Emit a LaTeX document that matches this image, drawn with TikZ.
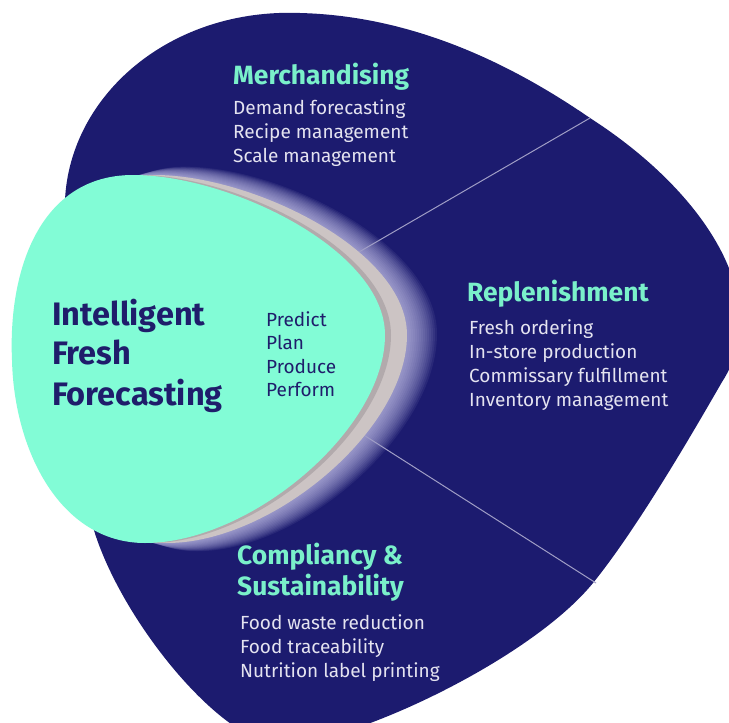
\documentclass[tikz,border=0pt]{standalone}
\usepackage{fontspec}
\setmainfont{Fira Sans}
\usepackage{xcolor}

\definecolor{navy}{RGB}{28,27,111}
\definecolor{mint}{RGB}{130,252,214}
\definecolor{minthead}{RGB}{122,240,202}
\definecolor{inktext}{RGB}{31,29,107}
\definecolor{paletext}{RGB}{228,227,240}
\definecolor{rimgrey}{RGB}{204,196,196}
\definecolor{rimshade}{RGB}{178,170,172}
\definecolor{glowc}{RGB}{210,208,245}
\definecolor{splitline}{RGB}{160,158,198}

\newcommand{\navyoutline}{(65,200) .. controls (70,95) and (170,8) .. (300,13) .. controls (420,16) and (520,70) .. (590,118) .. controls (705,192) and (775,300) .. (722,382) .. controls (700,420) and (640,525) .. (593,583) .. controls (532,658) and (360,740) .. (285,745) .. controls (225,749) and (120,620) .. (93,527) .. controls (66,434) and (62,252) .. (65,200) -- cycle}
\newcommand{\mintoutline}{(12,360) .. controls (8,270) and (40,175) .. (133,175) .. controls (230,175) and (385,250) .. (385,335) .. controls (385,430) and (250,543) .. (145,543) .. controls (60,543) and (14,450) .. (12,360) -- cycle}

\begin{document}
\begin{tikzpicture}[x=1pt,y=-1pt,
  head/.style={font=\fontsize{26.4}{30}\selectfont\bfseries, text=minthead, inner sep=0pt, anchor=base west},
  item/.style={font=\fontsize{19}{24}\selectfont, text=paletext, inner sep=0pt, anchor=base west},
  core/.style={font=\fontsize{32.5}{40}\selectfont\bfseries, text=inktext, inner sep=0pt, anchor=base west},
  verb/.style={font=\fontsize{19}{24}\selectfont, text=inktext, inner sep=0pt, anchor=base west}]

\useasboundingbox (0,0) rectangle (729,723);
\fill[white] (0,0) rectangle (729,723);
\clip (0,0) rectangle (729,723);

%outer blob
\fill[navy] \navyoutline;

%glow round the core
\begin{scope}
\clip \navyoutline;
\foreach \d [count=\k] in {24,26,...,52}
  \fill[glowc, opacity=0.075, xshift=\d pt, shift={(0,360-360*(1+0.003*\k))}, yscale=1+0.003*\k] \mintoutline;
\end{scope}

%split lines
\coordinate (upin) at (359,252);
\coordinate (upout) at (590,118);
\coordinate (lowin) at (359,432);
\coordinate (lowout) at (596,583);
\draw[splitline, line width=1pt] (upin) -- (upout);
\draw[splitline, line width=1pt] (lowin) -- (lowout);

%rim and core
\fill[rimgrey, xshift=22pt] \mintoutline;
\fill[rimshade, xshift=6pt] \mintoutline;
\fill[mint] \mintoutline;

%core labels
\node[core] (intel) at (52,325) {Intelligent};
\node[core] (fresh) at (52,364) {Fresh};
\node[core] (fcast) at (52,405) {Forecasting};

\foreach \txt [count=\i] in {Predict, Plan, Produce, Perform}
  \node[verb] (verb\i) at (266,302.5+23.5*\i) {\txt};

%merchandising
\node[head] (merch) at (233,84) {Merchandising};
\foreach \txt [count=\i] in {Demand forecasting, Recipe management, Scale management}
  \node[item] (merch\i) at (233,90+24*\i) {\txt};

%replenishment
\node[head] (repl) at (467,301) {Replenishment};
\foreach \txt [count=\i] in {Fresh ordering, In-store production, Commissary fulfillment, Inventory management}
  \node[item] (repl\i) at (469,310+24*\i) {\txt};

%compliancy
\node[head] (comp) at (237,564) {Compliancy \&};
\node[head] (sust) at (237,595) {Sustainability};
\foreach \txt [count=\i] in {Food waste reduction, Food traceability, Nutrition label printing}
  \node[item] (comp\i) at (240,605+24*\i) {\txt};

\end{tikzpicture}
\end{document}
